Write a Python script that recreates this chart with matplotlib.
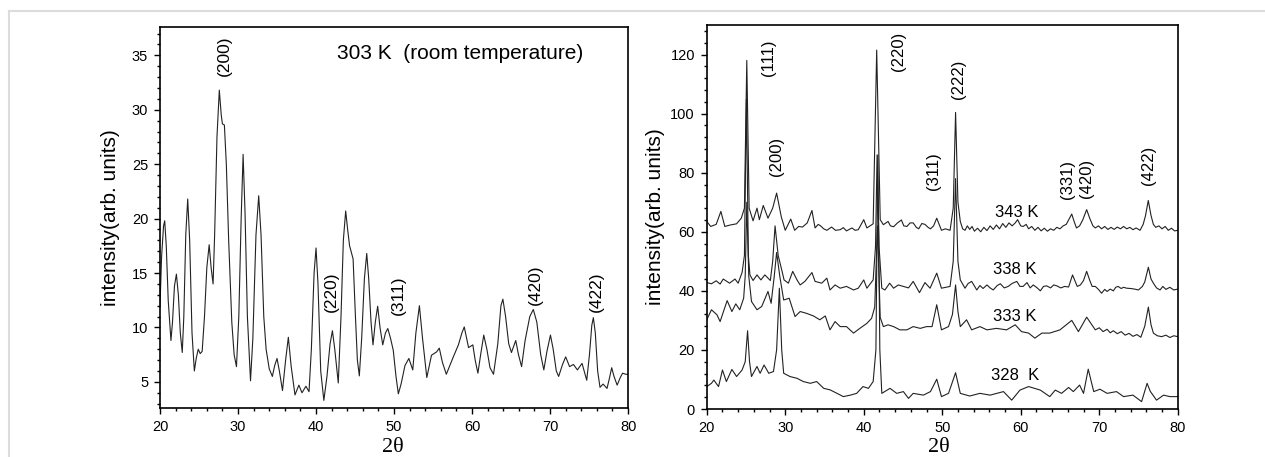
#!/usr/bin/env python3
import matplotlib

matplotlib.use("Agg")
import matplotlib.pyplot as plt
import numpy as np
from matplotlib.lines import Line2D
from matplotlib.ticker import MultipleLocator

# 303 K (room temperature) pattern as (2theta, intensity)
room_temp = [
    (20.0, 12.0), (20.2, 16.5), (20.45, 19.3), (20.6, 19.8), (20.8, 17.5),
    (21.05, 12.5), (21.4, 8.8), (21.6, 10.5), (21.85, 13.8), (22.1, 14.9),
    (22.35, 13.0), (22.6, 9.5), (22.85, 7.7), (23.05, 11.0), (23.3, 18.5),
    (23.55, 21.8), (23.8, 18.0), (24.1, 9.5), (24.4, 6.0), (24.65, 7.2),
    (24.9, 8.0), (25.15, 7.6), (25.4, 7.8), (25.7, 11.0), (26.0, 15.5),
    (26.3, 17.6), (26.55, 15.5), (26.8, 14.0), (27.0, 18.5), (27.3, 27.5),
    (27.6, 31.8), (27.85, 29.5), (28.0, 28.7), (28.25, 28.6), (28.5, 25.0),
    (28.8, 18.0), (29.2, 10.5), (29.5, 7.5), (29.8, 6.4), (30.1, 11.0),
    (30.4, 20.0), (30.65, 25.9), (30.9, 20.5), (31.2, 11.0), (31.6, 5.1),
    (31.9, 9.0), (32.3, 18.5), (32.65, 22.1), (32.95, 18.5), (33.3, 11.0),
    (33.6, 8.0), (34.0, 6.2), (34.4, 5.5), (34.7, 6.5), (35.0, 7.15),
    (35.3, 6.0), (35.7, 4.2), (36.1, 7.0), (36.45, 9.1), (36.8, 6.5),
    (37.3, 3.8), (37.8, 4.7), (38.2, 4.0), (38.7, 4.6), (39.1, 4.1),
    (39.4, 8.0), (39.75, 15.0), (40.0, 17.3), (40.25, 14.0), (40.6, 6.0),
    (41.0, 3.3), (41.4, 5.5), (41.8, 8.5), (42.1, 9.7), (42.4, 8.0),
    (42.85, 4.9), (43.2, 11.0), (43.5, 18.0), (43.8, 20.7), (44.05, 19.0),
    (44.3, 17.5), (44.75, 16.3), (45.05, 11.0), (45.3, 7.0), (45.55, 5.55),
    (45.85, 9.0), (46.2, 14.5), (46.5, 16.8), (46.75, 14.5), (47.05, 10.5),
    (47.3, 8.4), (47.6, 10.5), (47.9, 11.95), (48.2, 10.0), (48.55, 8.4),
    (48.9, 9.5), (49.2, 9.9), (49.55, 9.0), (49.9, 7.9), (50.25, 5.5),
    (50.55, 3.9), (50.9, 4.8), (51.4, 6.5), (51.9, 7.15), (52.4, 6.1),
    (52.8, 9.5), (53.25, 12.0), (53.65, 9.0), (54.2, 5.4), (54.8, 7.45),
    (55.45, 7.75), (55.8, 8.1), (56.2, 6.8), (56.7, 5.7), (57.6, 7.3),
    (58.25, 8.4), (58.7, 9.5), (59.0, 10.05), (59.3, 9.0), (59.55, 8.15),
    (60.1, 8.4), (60.4, 7.0), (60.75, 5.8), (61.1, 7.5), (61.5, 9.3),
    (61.9, 8.0), (62.3, 6.3), (62.75, 5.7), (63.3, 8.5), (63.7, 12.0),
    (63.95, 12.6), (64.3, 11.0), (64.7, 8.5), (65.05, 7.7), (65.6, 8.8),
    (65.95, 7.5), (66.35, 6.4), (66.8, 8.8), (67.4, 11.0), (67.85, 11.65),
    (68.3, 10.5), (68.8, 7.5), (69.2, 6.1), (69.6, 7.8), (70.05, 9.3),
    (70.4, 8.0), (70.8, 6.0), (71.1, 5.5), (71.6, 6.6), (72.0, 7.3),
    (72.5, 6.4), (73.0, 6.6), (73.5, 6.1), (74.1, 6.7), (74.7, 5.15),
    (75.05, 7.5), (75.35, 10.2), (75.55, 10.9), (75.8, 9.5), (76.1, 6.0),
    (76.4, 4.5), (76.8, 4.8), (77.3, 4.4), (77.6, 5.3), (77.9, 6.3),
    (78.2, 5.5), (78.6, 4.7), (79.0, 5.4), (79.3, 5.8), (79.7, 5.7),
    (80.0, 5.7),
]
room_peaks = ["(200)", "(220)", "(311)", "(420)", "(422)"]
room_peak_pos = [(28.3, 35.0), (42.0, 13.3), (50.55, 13.0), (68.1, 13.9), (75.9, 13.3)]

# heated patterns
k343 = [
    (20.0, 63.5), (20.5, 61.8), (21.2, 62.5), (21.8, 66.9), (22.3, 61.8),
    (23.0, 62.3), (23.8, 62.7), (24.4, 64.6), (24.8, 68.0), (25.1, 118.0),
    (25.4, 68.0), (25.9, 63.7), (26.4, 68.0), (26.7, 64.1), (27.2, 68.9),
    (27.8, 64.6), (28.4, 68.0), (28.9, 73.1), (29.5, 65.0), (30.0, 60.5),
    (30.7, 64.3), (31.2, 60.5), (31.7, 61.8), (32.2, 61.6), (32.8, 63.0),
    (33.4, 67.2), (33.8, 61.3), (34.2, 62.5), (34.5, 62.0), (34.9, 61.0),
    (35.3, 60.5), (35.9, 61.6), (36.4, 60.5), (37.0, 60.7), (37.4, 61.4),
    (37.8, 60.3), (38.5, 61.3), (38.9, 60.5), (39.3, 60.7), (40.0, 64.1),
    (40.4, 61.3), (40.8, 62.0), (41.2, 62.7), (41.65, 121.5), (42.1, 64.1),
    (42.5, 62.4), (43.1, 63.5), (43.4, 62.0), (43.8, 61.7), (44.3, 63.0),
    (44.8, 64.0), (45.1, 62.0), (45.5, 61.8), (45.9, 63.0), (46.3, 63.0),
    (46.7, 61.5), (47.0, 61.0), (47.4, 62.8), (47.8, 62.5), (48.2, 61.5),
    (48.5, 61.0), (48.9, 62.0), (49.3, 64.6), (49.9, 60.5), (50.4, 61.0),
    (51.0, 60.5), (51.4, 68.0), (51.7, 100.4), (52.0, 70.0), (52.3, 63.5),
    (52.6, 61.0), (52.9, 60.5), (53.2, 62.0), (53.5, 60.8), (53.8, 61.8),
    (54.1, 60.2), (54.5, 61.2), (54.9, 60.0), (55.3, 61.5), (55.7, 60.4),
    (56.1, 62.0), (56.5, 60.8), (56.9, 62.3), (57.3, 61.0), (57.7, 62.8),
    (58.1, 61.5), (58.5, 63.0), (58.9, 62.0), (59.3, 63.0), (59.6, 64.1),
    (60.0, 62.0), (60.3, 61.8), (60.7, 62.5), (61.0, 61.0), (61.4, 61.8),
    (61.8, 60.5), (62.2, 61.5), (62.6, 60.3), (63.0, 61.2), (63.4, 60.2),
    (63.8, 61.0), (64.2, 60.5), (64.6, 61.5), (65.0, 61.0), (65.4, 62.0),
    (65.8, 62.5), (66.2, 64.5), (66.5, 66.0), (66.8, 63.5), (67.1, 61.3),
    (67.5, 62.0), (67.9, 64.0), (68.4, 67.5), (68.8, 64.5), (69.2, 62.0),
    (69.5, 61.3), (69.9, 62.0), (70.3, 61.0), (70.7, 61.8), (71.1, 60.8),
    (71.5, 61.5), (71.9, 60.8), (72.3, 61.6), (72.7, 61.0), (73.1, 61.8),
    (73.5, 61.0), (73.9, 61.5), (74.3, 60.7), (74.7, 61.3), (75.2, 60.5),
    (75.6, 62.5), (75.9, 65.5), (76.25, 70.6), (76.6, 65.5), (76.9, 62.5),
    (77.2, 61.5), (77.6, 62.0), (78.0, 61.0), (78.4, 61.8), (78.8, 60.5),
    (79.2, 61.2), (79.6, 60.3), (80.0, 60.5),
]
k338 = [
    (20.0, 42.8), (20.6, 42.4), (21.2, 43.4), (21.7, 42.3), (22.1, 44.0),
    (22.9, 42.6), (23.6, 44.0), (24.0, 42.6), (24.5, 46.2), (24.8, 52.0),
    (25.05, 105.0), (25.3, 52.0), (25.5, 45.4), (25.9, 43.5), (26.4, 45.4),
    (26.9, 43.7), (27.4, 45.4), (28.1, 43.5), (28.4, 50.0), (28.7, 62.0),
    (29.1, 52.0), (29.55, 47.1), (29.85, 43.7), (30.4, 42.6), (30.95, 46.6),
    (31.5, 43.7), (31.9, 42.0), (32.5, 43.2), (33.4, 46.2), (33.8, 43.2),
    (34.65, 42.6), (35.3, 44.3), (35.7, 40.3), (36.35, 42.0), (37.0, 40.9),
    (37.8, 41.5), (38.7, 40.3), (39.3, 40.9), (40.0, 43.7), (40.4, 40.9),
    (41.2, 43.7), (41.5, 55.0), (41.7, 86.0), (41.95, 55.0), (42.3, 40.9),
    (42.7, 40.3), (43.3, 42.6), (43.8, 40.9), (44.4, 42.0), (45.05, 41.5),
    (45.7, 41.0), (46.3, 43.2), (47.1, 39.4), (47.8, 42.8), (48.45, 40.9),
    (49.3, 46.0), (49.9, 40.9), (51.0, 41.5), (51.4, 50.0), (51.7, 78.0),
    (52.0, 50.0), (52.3, 43.7), (52.9, 40.9), (53.3, 42.5), (53.75, 43.2),
    (54.4, 40.3), (54.8, 41.8), (55.2, 40.8), (55.7, 42.0), (56.1, 41.0),
    (56.5, 40.3), (57.0, 41.8), (57.4, 42.4), (57.9, 41.0), (58.4, 41.5),
    (58.9, 42.5), (59.5, 43.2), (59.9, 41.5), (60.3, 41.5), (60.8, 42.8),
    (61.2, 41.0), (61.6, 42.0), (62.1, 41.0), (62.5, 40.0), (62.9, 41.5),
    (63.3, 41.7), (63.8, 41.0), (64.2, 42.0), (64.6, 41.7), (65.1, 41.0),
    (65.6, 41.5), (66.1, 41.3), (66.6, 45.4), (67.2, 41.5), (67.6, 42.0),
    (68.0, 43.5), (68.4, 46.6), (68.8, 43.5), (69.1, 41.5), (69.5, 41.5),
    (69.9, 40.5), (70.3, 39.2), (70.7, 40.5), (71.0, 39.8), (71.4, 40.6),
    (71.8, 40.0), (72.1, 41.2), (72.4, 41.5), (72.8, 40.8), (73.1, 41.2),
    (73.5, 40.9), (74.0, 40.8), (74.5, 40.6), (75.0, 40.3), (75.5, 41.5),
    (75.8, 43.0), (76.26, 48.0), (76.6, 44.0), (76.9, 42.6), (77.3, 41.0),
    (77.75, 40.3), (78.1, 41.5), (78.5, 40.5), (79.0, 41.2), (79.5, 40.3),
    (80.0, 40.6),
]
k333 = [
    (20.0, 30.2), (20.6, 33.6), (21.3, 31.9), (21.7, 29.6), (22.6, 36.7),
    (23.2, 33.0), (23.7, 35.6), (24.2, 33.6), (24.7, 37.5), (24.9, 45.0),
    (25.1, 70.0), (25.35, 45.0), (25.7, 36.4), (26.4, 33.6), (27.0, 34.7),
    (27.8, 39.8), (28.2, 35.8), (28.6, 45.0), (28.9, 53.0), (29.3, 45.0),
    (29.8, 36.9), (30.5, 37.5), (31.25, 31.3), (31.9, 33.0), (32.7, 32.4),
    (33.6, 31.5), (34.4, 30.2), (35.1, 31.5), (35.7, 26.8), (36.35, 29.6),
    (37.0, 27.9), (37.8, 27.9), (38.7, 25.7), (39.5, 27.3), (40.4, 29.0),
    (41.0, 30.7), (41.4, 34.5), (41.75, 62.0), (42.1, 31.0), (42.5, 27.9),
    (43.1, 28.5), (43.8, 27.9), (44.6, 26.8), (45.5, 26.8), (46.3, 27.9),
    (47.2, 27.3), (48.0, 27.9), (48.7, 27.9), (49.3, 35.3), (49.9, 26.8),
    (50.8, 27.9), (51.3, 32.0), (51.7, 42.0), (52.0, 33.0), (52.3, 27.9),
    (53.1, 30.2), (53.75, 26.8), (54.8, 27.9), (55.7, 26.8), (56.9, 27.3),
    (58.2, 26.8), (59.3, 28.5), (60.1, 26.2), (61.0, 25.7), (61.8, 24.0),
    (62.7, 25.7), (63.7, 25.7), (65.0, 26.8), (66.5, 30.0), (67.35, 26.2),
    (68.4, 31.1), (69.5, 26.8), (70.0, 27.5), (70.5, 26.2), (71.0, 27.0),
    (71.4, 25.8), (71.8, 26.5), (72.3, 25.5), (72.8, 26.2), (73.3, 25.0),
    (73.8, 25.6), (74.3, 24.6), (74.8, 25.2), (75.3, 24.3), (75.8, 28.0),
    (76.26, 34.5), (76.6, 28.5), (76.9, 25.7), (77.4, 24.8), (77.95, 24.5),
    (78.5, 25.0), (79.0, 24.2), (79.5, 24.8), (80.0, 24.5),
]
k328 = [
    (20.0, 7.6), (20.6, 8.7), (20.9, 9.8), (21.5, 7.6), (22.0, 13.2),
    (22.5, 9.3), (23.2, 13.4), (23.8, 11.0), (24.5, 13.2), (24.9, 16.0),
    (25.2, 26.5), (25.45, 16.0), (25.7, 11.0), (26.4, 14.4), (26.8, 12.1),
    (27.3, 14.9), (27.9, 12.1), (28.5, 12.7), (28.9, 20.0), (29.25, 40.9),
    (29.55, 20.0), (29.8, 12.1), (30.6, 11.0), (31.5, 10.4), (32.3, 9.3),
    (33.2, 8.7), (34.0, 9.3), (34.9, 7.0), (35.7, 6.5), (36.6, 5.3),
    (37.4, 4.2), (38.3, 4.7), (39.1, 5.3), (39.9, 7.6), (40.6, 7.0),
    (41.2, 9.3), (41.55, 20.0), (41.8, 86.0), (42.05, 20.0), (42.3, 5.3),
    (43.35, 7.0), (44.2, 5.3), (45.05, 5.9), (45.7, 3.6), (46.3, 5.3),
    (47.6, 4.7), (48.5, 5.9), (49.3, 10.1), (49.9, 4.2), (50.8, 5.3),
    (51.7, 12.3), (52.3, 5.3), (53.5, 4.4), (54.8, 5.3), (56.1, 4.7),
    (57.8, 5.9), (58.85, 3.0), (59.9, 6.4), (61.0, 7.6), (62.5, 6.4),
    (63.7, 4.2), (64.4, 6.4), (65.2, 5.3), (66.1, 7.3), (66.7, 5.9),
    (67.5, 8.1), (68.0, 5.3), (68.6, 13.5), (69.3, 5.9), (70.1, 6.7),
    (71.0, 5.3), (72.2, 5.9), (73.1, 4.2), (74.3, 4.7), (75.4, 2.5),
    (76.1, 8.7), (76.5, 6.0), (77.3, 3.0), (78.2, 4.7), (79.0, 4.2),
    (80.0, 4.2),
]
heated_names = ["343 K", "338 K", "333 K", "328  K"]
heated_label_pos = [(59.45, 66.5), (59.3, 47.1), (59.3, 31.3), (59.3, 11.3)]
heated_peaks = ["(111)", "(200)", "(220)", "(311)", "(222)", "(331)", "(420)", "(422)"]
heated_peak_pos = [
    (27.85, 119.0), (28.9, 85.5), (44.4, 121.1), (48.9, 80.5),
    (52.05, 111.5), (65.9, 77.6), (68.4, 78.2), (76.25, 82.4),
]

FONT = ["Liberation Sans", "DejaVu Sans"]
THETA_FONT = ["Liberation Serif", "DejaVu Serif"]


def style_axes(ax, ymajor, yminor):
    ax.set_xlim(20, 80)
    ax.xaxis.set_major_locator(MultipleLocator(10))
    ax.xaxis.set_minor_locator(MultipleLocator(2))
    ax.yaxis.set_major_locator(MultipleLocator(ymajor))
    ax.yaxis.set_minor_locator(MultipleLocator(yminor))
    ax.tick_params(which="both", direction="out", width=1.0, labelsize=10.5, pad=4)
    ax.tick_params(which="major", length=4.5)
    ax.tick_params(which="minor", length=2.5)
    ax.tick_params(top=False, right=False)
    for sp in ax.spines.values():
        sp.set_linewidth(1.2)


def main():
    plt.rcParams["font.family"] = FONT
    fig = plt.figure(figsize=(12.65, 4.57), dpi=100)

    # faint page border
    fig.add_artist(Line2D([9 / 1265, 1], [1 - 11 / 457] * 2, color="#dcdcdc", lw=1.5))
    fig.add_artist(Line2D([9 / 1265] * 2, [0, 1 - 11 / 457], color="#dcdcdc", lw=1.5))

    ax1 = fig.add_axes([0.1265, 0.1072, 0.3700, 0.8337])
    xy = np.array(room_temp)
    ax1.plot(xy[:, 0], xy[:, 1], color="#222222", lw=0.8)
    style_axes(ax1, 5, 1)
    ax1.set_ylim(2.6, 37.6)
    for name, (px, py) in zip(room_peaks, room_peak_pos):
        ax1.text(px, py, name, rotation=90, ha="center", va="center", fontsize=12.5)
    ax1.text(42.7, 35.2, "303 K  (room temperature)", ha="left", va="center", fontsize=15)
    ax1.set_ylabel("intensity(arb. units)", fontsize=15)
    ax1.yaxis.set_label_coords(-0.0855, 0.5)
    ax1.set_xlabel("2θ", fontsize=16, family=THETA_FONT)
    ax1.xaxis.set_label_coords(0.498, -0.079)

    ax2 = fig.add_axes([0.5587, 0.1050, 0.3723, 0.8403])
    for curve in (k343, k338, k333, k328):
        xy = np.array(curve)
        ax2.plot(xy[:, 0], xy[:, 1], color="#222222", lw=0.8)
    style_axes(ax2, 20, 4)
    ax2.set_ylim(0, 130)
    for name, (px, py) in zip(heated_peaks, heated_peak_pos):
        ax2.text(px, py, name, rotation=90, ha="center", va="center", fontsize=12)
    for name, (px, py) in zip(heated_names, heated_label_pos):
        ax2.text(px, py, name, ha="center", va="center", fontsize=12)
    ax2.set_ylabel("intensity(arb. units)", fontsize=15)
    ax2.yaxis.set_label_coords(-0.0885, 0.5)
    ax2.set_xlabel("2θ", fontsize=16, family=THETA_FONT)
    ax2.xaxis.set_label_coords(0.493, -0.076)

    fig.savefig("out.png", dpi=100)


if __name__ == "__main__":
    main()
